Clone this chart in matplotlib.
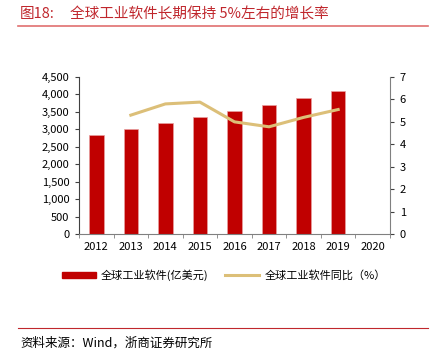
import numpy as np
import matplotlib
matplotlib.use("Agg")
from matplotlib import pyplot as plt
from matplotlib.lines import Line2D
from matplotlib.patches import Patch

plt.rcParams['font.family'] = ['Noto Sans CJK SC', 'DejaVu Sans']

years = ['2012', '2013', '2014', '2015', '2016', '2017', '2018', '2019', '2020']
sales = [2850, 3000, 3180, 3360, 3530, 3700, 3890, 4100]   # 亿美元
growth = [None, 5.30, 5.80, 5.88, 5.00, 4.78, 5.20, 5.55]    # %

bar_c = '#c00000'
line_c = '#dcbf78'

fig = plt.figure(figsize=(4.35, 3.53), dpi=100)
ax = fig.add_axes([79/435, 1-234/353, 311/435, 157/353])
x = np.arange(len(years))
ax.bar(x[:len(sales)], sales, width=0.42, color=bar_c, edgecolor='#e8a0a0', linewidth=0.5, zorder=2)
ax.set_xlim(-0.5, len(years)-0.5)
ax.set_ylim(0, 4500)
ax.set_yticks(np.arange(0, 4501, 500))
ax.set_yticklabels([f'{v:,}' for v in range(0, 4501, 500)])
ax.set_xticks(x)
ax.set_xticklabels(years)
ax.set_xticks(np.arange(-0.5, len(years), 1), minor=True)
ax.tick_params(axis='x', which='major', length=0, pad=6)
ax.tick_params(axis='x', which='minor', length=3, color='#808080')
ax.tick_params(axis='y', length=3, labelsize=8, color='#404040', pad=4)
ax.tick_params(axis='x', labelsize=8)
for s in ['top', 'right']:
    ax.spines[s].set_visible(False)
ax.spines['bottom'].set_color('#808080')
ax.spines['left'].set_color('#404040')
ax.spines['left'].set_linewidth(0.8)

ax2 = ax.twinx()
gx = [i for i, g in enumerate(growth) if g is not None]
gy = [g for g in growth if g is not None]
ax2.plot(gx, gy, color=line_c, linewidth=2.2, zorder=3)
ax2.set_ylim(0, 7)
ax2.set_yticks(range(0, 8))
ax2.tick_params(axis='y', length=3, labelsize=8, color='#404040', pad=4)
for s in ['top', 'left', 'bottom']:
    ax2.spines[s].set_visible(False)
ax2.spines['right'].set_color('#808080')

title_c = '#c0272d'
fig.text(20/435, 1-14/353, '图18:', color=title_c, fontsize=10.5, va='center')
fig.text(70/435, 1-14/353, '全球工业软件长期保持 5%左右的增长率', color=title_c, fontsize=10.5, va='center')
fig.add_artist(Line2D([18/435, 428/435], [1-26/353, 1-26/353], color='#e07070', linewidth=1.2))

handles = [Patch(color=bar_c), Line2D([0], [0], color=line_c, linewidth=2.2)]
fig.legend(handles, ['全球工业软件(亿美元)', '全球工业软件同比（%）'], loc='center',
           bbox_to_anchor=(224/435, 1-275/353), ncol=2, frameon=False, fontsize=8,
           handlelength=3.0, handleheight=0.5, columnspacing=1.5, handletextpad=0.5)

fig.add_artist(Line2D([18/435, 428/435], [1-328/353, 1-328/353], color='#c0272d', linewidth=0.8))
fig.text(20/435, 1-343/353, '资料来源：Wind，浙商证券研究所', fontsize=9, va='center', color='#000000')

fig.savefig('out.png', dpi=100)
